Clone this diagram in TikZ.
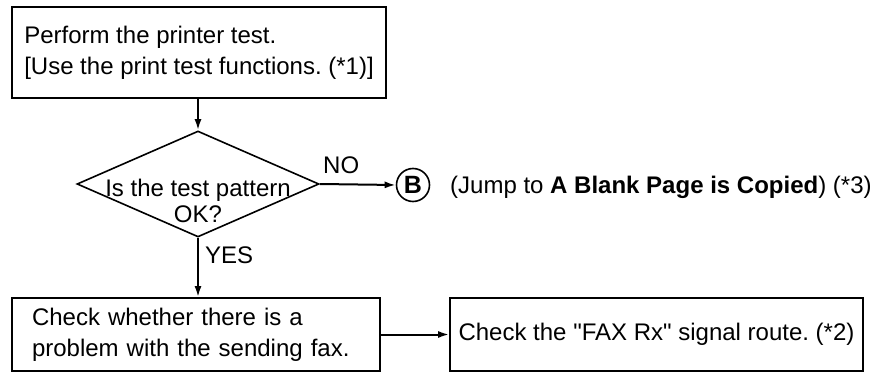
\documentclass[tikz,border=0pt]{standalone}
\usepackage{fontspec}
\setmainfont{Liberation Sans}
\usetikzlibrary{arrows.meta,shapes.geometric}
\begin{document}
\frenchspacing
\begin{tikzpicture}[x=1pt,y=-1pt,
  every node/.style={font=\fontsize{24}{31}\selectfont},
  stepbox/.style={draw,line width=1.8pt,rectangle,inner ysep=0pt},
  flow/.style={line width=2pt,-{Latex[length=11pt,width=7pt]}},
  lbl/.style={inner sep=0pt,anchor=base west}]
\useasboundingbox (0,0) rectangle (873,374);
\node[stepbox,minimum width=374,minimum height=91,align=left] (b1) at (199,52.5)
  {Perform the printer test.\\{}[Use the print test functions. (*1)]};
\node[draw,line width=1.6pt,diamond,minimum width=242,minimum height=106,inner sep=0pt] (dec) at (198,184) {};
\node[align=center,inner sep=0pt,font=\fontsize{24}{26}\selectfont] (dect) at (198,201) {Is the test pattern\\OK?};
\node[stepbox,minimum height=73,text width=328,inner xsep=20pt,align=left] (b2) at (196,334.5)
  {Check whether there is a\\problem with the sending fax.};
\node[stepbox,minimum width=413,minimum height=73] (b3) at (656.5,334.5)
  {Check the \textquotedbl FAX Rx\textquotedbl\ signal route. (*2)};
\node[draw,circle,line width=1.6pt,minimum size=33,inner sep=0pt,font=\fontsize{25}{31}\selectfont\bfseries] (cb) at (413,185) {B};
\node[lbl] (jump) at (450,193.5) {(Jump to \textbf{A Blank Page is Copied}) (*3)};
\node[lbl] (no) at (323,174) {NO};
\node[lbl] (yes) at (205,263) {YES};
\draw[flow] (b1.south -| dec.north) -- (dec.north);
\draw[flow] (dec.east) -- (cb.west);
\draw[flow] (dec.south) -- (dec.south |- b2.north);
\draw[flow] (b2.east) -- (b3.west);
\end{tikzpicture}
\end{document}
